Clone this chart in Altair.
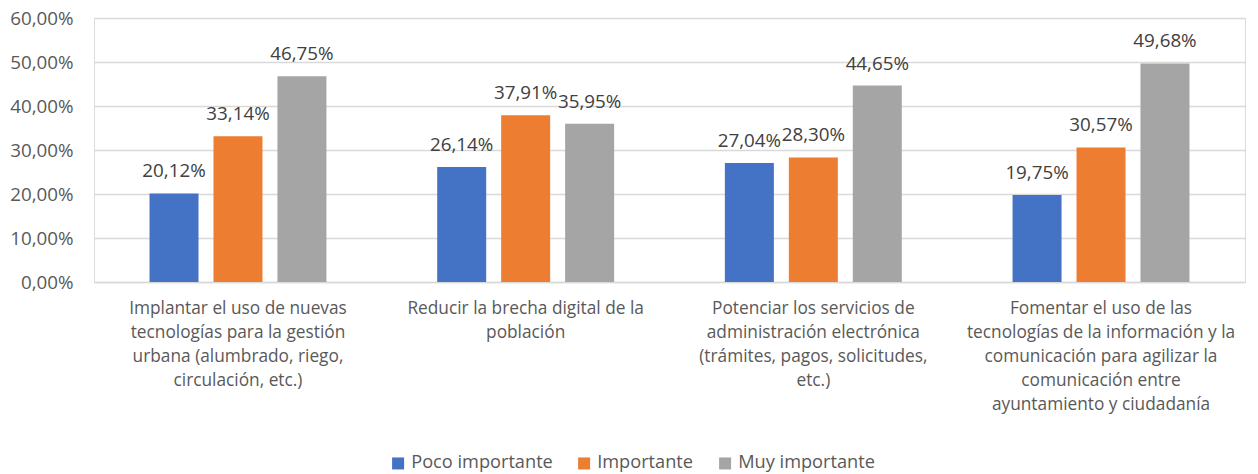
import altair as alt
import pandas as pd

# Survey results: share of respondents per importance level for each measure
categories = [
    "Implantar el uso de nuevas\ntecnologías para la gestión\nurbana (alumbrado, riego,\ncirculación, etc.)",
    "Reducir la brecha digital de la\npoblación",
    "Potenciar los servicios de\nadministración electrónica\n(trámites, pagos, solicitudes,\netc.)",
    "Fomentar el uso de las\ntecnologías de la información y la\ncomunicación para agilizar la\ncomunicación entre\nayuntamiento y ciudadanía",
]
series = ["Poco importante", "Importante", "Muy importante"]
poco_importante = [0.2012, 0.2614, 0.2704, 0.1975]
importante = [0.3314, 0.3791, 0.2830, 0.3057]
muy_importante = [0.4675, 0.3595, 0.4465, 0.4968]
colors = ["#4472C4", "#ED7D31", "#A5A5A5"]

rows = []
for name, values in zip(series, [poco_importante, importante, muy_importante]):
    for cat, v in zip(categories, values):
        rows.append({"categoria": cat, "serie": name, "valor": v})
df = pd.DataFrame(rows)

FONT = "Open Sans"

base = alt.Chart(df).encode(
    x=alt.X(
        "categoria:N",
        sort=categories,
        title=None,
        scale=alt.Scale(paddingInner=0.385, paddingOuter=0.193),
        axis=alt.Axis(
            labelAngle=0,
            labelExpr="split(datum.label, '\\n')",
            labelLineHeight=24,
            labelFontSize=17.3,
            labelColor="#595959",
            labelFont=FONT,
            labelPadding=17,
            labelLimit=400,
            ticks=False,
            domain=True,
            domainColor="#D9D9D9",
            domainWidth=1.5,
            labelBaseline="top",
        ),
    ),
    xOffset=alt.XOffset(
        "serie:N",
        sort=series,
        scale=alt.Scale(paddingInner=0.234, paddingOuter=0),
    ),
)

bars = base.mark_bar().encode(
    y=alt.Y(
        "valor:Q",
        title=None,
        scale=alt.Scale(domain=[0, 0.6]),
        axis=alt.Axis(
            values=[0, 0.1, 0.2, 0.3, 0.4, 0.5, 0.6],
            labelExpr="replace(format(datum.value, '.2%'), '.', ',')",
            labelFontSize=18.8,
            labelColor="#595959",
            labelFont=FONT,
            labelPadding=21,
            ticks=False,
            domain=False,
            grid=True,
            gridColor="#D9D9D9",
            gridWidth=1.5,
        ),
    ),
    color=alt.Color(
        "serie:N",
        sort=series,
        scale=alt.Scale(domain=series, range=colors),
        legend=alt.Legend(
            title=None,
            orient="none",
            direction="horizontal",
            legendX=295,
            legendY=436,
            symbolType="square",
            symbolSize=144,
            symbolStrokeWidth=0,
            labelFontSize=18.2,
            labelColor="#595959",
            labelFont=FONT,
            labelOffset=4,
            columnPadding=22,
        ),
    ),
)

labels = base.transform_calculate(
    etiqueta="replace(format(datum.valor, '.2%'), '.', ',')"
).mark_text(
    baseline="bottom", dy=-12, fontSize=18.8, color="#404040", font=FONT
).encode(
    y="valor:Q",
    text="etiqueta:N",
)

chart = (
    alt.layer(bars, labels)
    .properties(
        width=1151,
        height=264,
        autosize=alt.AutoSizeParams(type="none"),
        padding={"left": 94, "top": 18, "right": 13, "bottom": 192},
    )
    .configure_view(stroke=None)
    .configure(background="white")
)

chart.save("out.html", embed_options={"renderer": "svg", "actions": False})
